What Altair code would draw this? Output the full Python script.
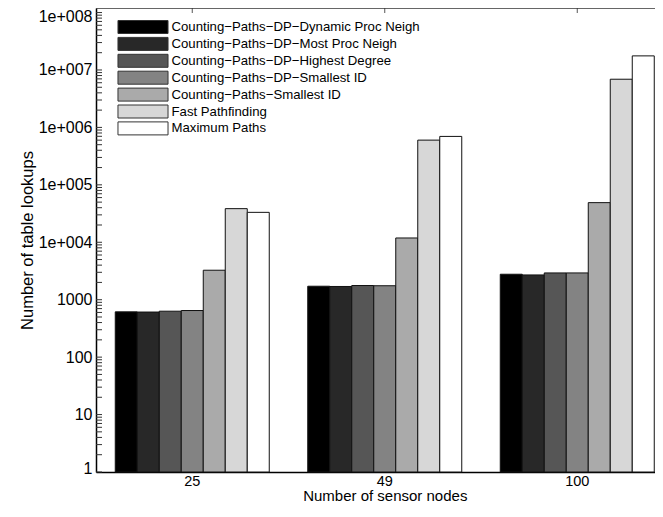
import altair as alt
import pandas as pd

nodes = ["25", "49", "100"]
series = [
    "Counting\u2212Paths\u2212DP\u2212Dynamic Proc Neigh",
    "Counting\u2212Paths\u2212DP\u2212Most Proc Neigh",
    "Counting\u2212Paths\u2212DP\u2212Highest Degree",
    "Counting\u2212Paths\u2212DP\u2212Smallest ID",
    "Counting\u2212Paths\u2212Smallest ID",
    "Fast Pathfinding",
    "Maximum Paths",
]
colors = ["#000000", "#282828", "#565656", "#838383", "#aaaaaa", "#d7d7d7", "#ffffff"]

vals_25 = [614, 610, 631, 648, 3260, 38500, 33200]
vals_49 = [1717, 1700, 1766, 1750, 11880, 601000, 697000]
vals_100 = [2775, 2700, 2925, 2925, 49000, 6900000, 17600000]

y_labels = [1, 10, 100, 1000, 1e4, 1e5, 1e6, 1e7, 1e8]
y_minor = [m * 10 ** d for d in range(8) for m in range(2, 10)]
baseline = 1

rows = []
for n, vals in zip(nodes, [vals_25, vals_49, vals_100]):
    for s, v in zip(series, vals):
        rows.append({"nodes": n, "series": s, "value": v, "base": baseline})
df = pd.DataFrame(rows)

W, H = 559, 464
XRANGE = 577.5
FONT = "Liberation Sans"

xscale = alt.Scale(domain=nodes, paddingInner=0.2, paddingOuter=0.1, range=[0, XRANGE])
yscale = alt.Scale(type="log", domain=[1, 1.2e8], nice=False)

xaxis = alt.Axis(title="Number of sensor nodes", ticks=False, labelAngle=0,
                 labelPadding=2, titlePadding=1, domainColor="#000000",
                 domainWidth=1.5, labelColor="#000000", titleColor="#000000",
                 labelFontSize=14.5, titleFontSize=15, titleFontWeight="normal",
                 labelFont=FONT, titleFont=FONT, grid=False)
yaxis = alt.Axis(title="Number of table lookups", values=y_labels, ticks=False,
                 grid=False, labelPadding=4, titlePadding=3,
                 labelFlush=6, labelFlushOffset=4,
                 labelExpr="datum.value >= 10000 ? '1e+00' + round(log(datum.value)/LN10) : '' + datum.value",
                 domainColor="#000000", domainWidth=1.5, labelColor="#000000",
                 titleColor="#000000", labelFontSize=16, titleFontSize=16.5,
                 titleFontWeight="normal", labelFont=FONT, titleFont=FONT)

bars = alt.Chart(df).mark_bar(stroke="#111111", strokeWidth=1).encode(
    x=alt.X("nodes:N", scale=xscale, sort=nodes, axis=xaxis),
    xOffset=alt.XOffset("series:N", sort=series,
                        scale=alt.Scale(domain=series, paddingInner=0, paddingOuter=0)),
    y=alt.Y("value:Q", scale=yscale, axis=yaxis, stack=None),
    y2="base:Q",
    color=alt.Color("series:N", sort=series,
                    scale=alt.Scale(domain=series, range=colors),
                    legend=alt.Legend(title=None, orient="none", legendX=40, legendY=12,
                                      symbolType="M-3.85,-1H3.85V1H-3.85Z", symbolSize=169,
                                      symbolStrokeColor="#333333", symbolStrokeWidth=1,
                                      symbolOpacity=1,
                                      labelFontSize=13.2, labelFont=FONT, labelColor="#000000",
                                      labelOffset=21.5, rowPadding=-1.1, labelLimit=400)),
)

tick_df = pd.DataFrame({"value": y_labels + y_minor})
yticks = alt.Chart(tick_df).mark_rule(color="#333333", strokeWidth=1).encode(
    y=alt.Y("value:Q", scale=yscale, axis=yaxis),
    x=alt.value(0), x2=alt.value(6),
)

top_df = pd.DataFrame({"nodes": nodes})
xticks = alt.Chart(top_df).mark_rule(color="#555555", strokeWidth=1).encode(
    x=alt.X("nodes:N", scale=xscale, sort=nodes, axis=xaxis),
    y=alt.value(0), y2=alt.value(5),
)

frame_df = pd.DataFrame({"a": [0]})
top_line = alt.Chart(frame_df).mark_rule(color="#333333", strokeWidth=1.5).encode(
    x=alt.value(0), x2=alt.value(W), y=alt.value(0),
)

chart = alt.layer(bars, yticks, xticks, top_line).properties(
    width=W, height=H,
    background="white",
    autosize=alt.AutoSizeParams(type="none"),
    padding={"left": 88, "top": 0, "right": 0, "bottom": 31},
).configure_view(stroke=None)

chart.save("out.html", embed_options={"renderer": "svg", "actions": False})
